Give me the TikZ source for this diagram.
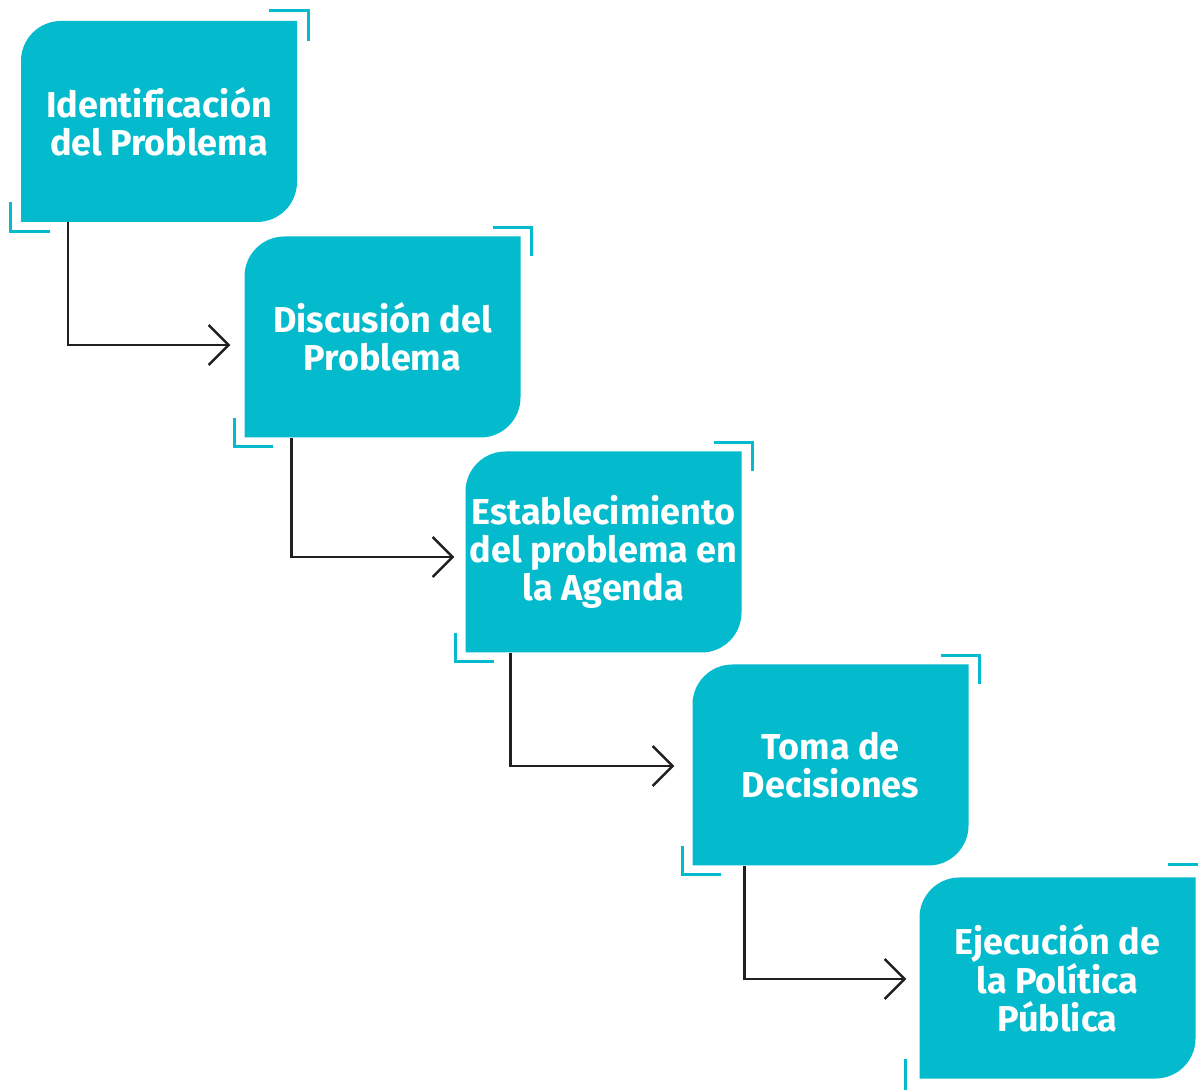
\documentclass[tikz,border=0pt]{standalone}
\usepackage{fontspec}
\setmainfont{Fira Sans}[Ligatures={NoCommon}]
\usetikzlibrary{arrows.meta,calc}
\definecolor{boxc}{HTML}{04BACD}
\definecolor{linec}{HTML}{231F20}
\tikzset{
  stepbox/.style={rectangle, minimum width=276pt, minimum height=201pt, inner sep=0pt,
    align=center, text=white, font=\fontsize{36}{38}\selectfont\bfseries,
    path picture={\fill[boxc] (path picture bounding box.south west)
      -- ([yshift=-40pt]path picture bounding box.north west)
      arc[start angle=180,end angle=90,radius=40pt]
      -- (path picture bounding box.north east)
      -- ([yshift=40pt]path picture bounding box.south east)
      arc[start angle=0,end angle=-90,radius=40pt] -- cycle;}},
  brk/.style={draw=boxc, line width=3pt},
  conn/.style={draw=linec, line width=2.4pt, -{Straight Barb[length=20pt,width=40pt,line width=2.4pt]}},
}
\begin{document}
\begin{tikzpicture}[x=1pt,y=1pt]
\useasboundingbox (0,0) rectangle (1198,1089);
\node[stepbox] (b1) at (159,967.5) {Identificación\\del Problema};
\node[stepbox] (b2) at (382.5,752) {Discusión del\\Problema};
\node[stepbox] (b3) at (603.5,537) {Establecimiento\\del problema en\\la Agenda};
\node[stepbox] (b4) at (830.5,324) {Toma de\\Decisiones};
\node[stepbox] (b5) at (1057.5,111) {Ejecución de\\la Política\\Pública};
% brackets
\foreach \b/\t/\s/\u in {b1/10/10/9,b2/9/10/9,b3/9/10/9,b4/9/10/9,b5/13/14/16}{
  \draw[brk] ([xshift=-28pt,yshift=\t pt]\b.north east) -| ([xshift=11pt,yshift=-20pt]\b.north east);
  \draw[brk] ([xshift=-\s pt,yshift=20pt]\b.south west) |- ([xshift=29pt,yshift=-\u pt]\b.south west);
}
% connectors
\draw[conn] ([xshift=47pt]b1.south west) |- ([xshift=-14pt,yshift=-8pt]b2.west);
\draw[conn] ([xshift=47pt]b2.south west) |- ([xshift=-11pt,yshift=-5pt]b3.west);
\draw[conn] ([xshift=45pt]b3.south west) |- ([xshift=-18pt,yshift=-1pt]b4.west);
\draw[conn] ([xshift=52pt]b4.south west) |- ([xshift=-13pt,yshift=-1pt]b5.west);
\end{tikzpicture}
\end{document}
